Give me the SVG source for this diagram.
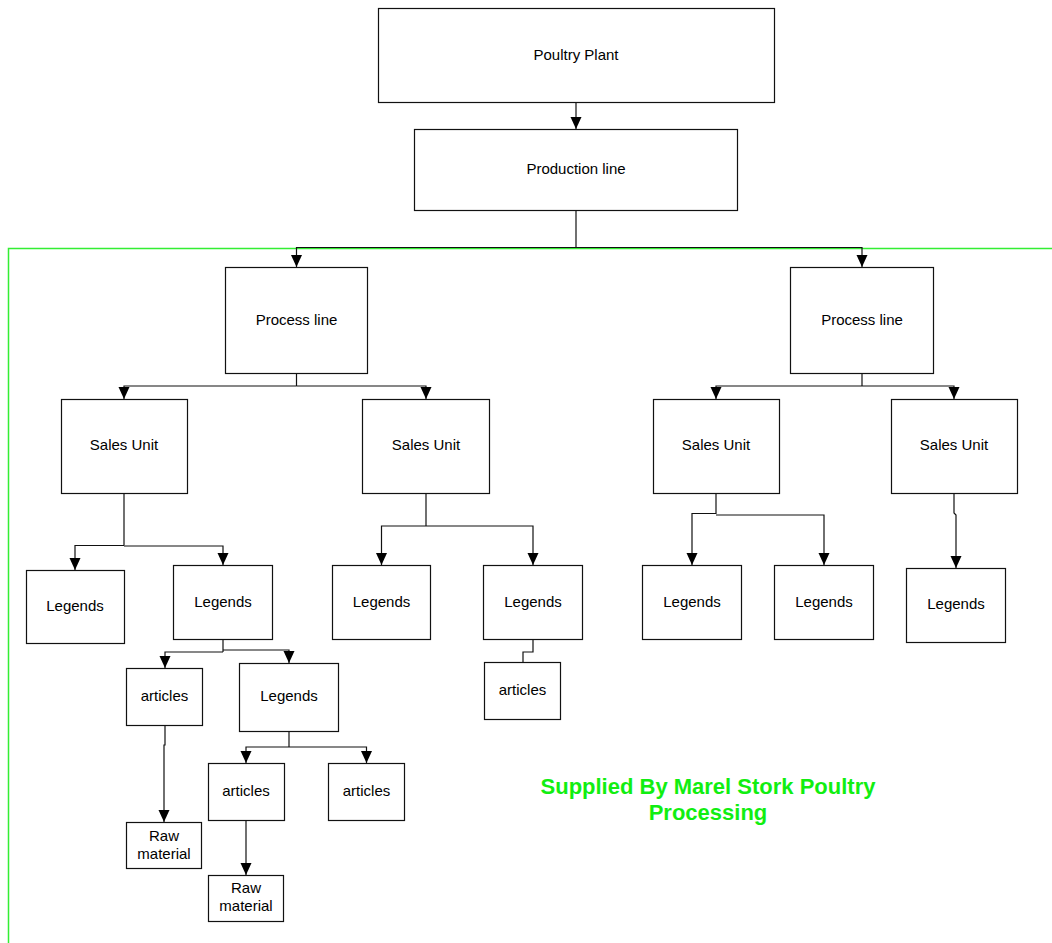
<svg xmlns="http://www.w3.org/2000/svg" width="1052" height="943" viewBox="0 0 1052 943">
<style>
.box{fill:#fff;stroke:#111;stroke-width:1.2}
.t{font-family:"Liberation Sans",Arial,sans-serif;font-size:15px;fill:#000;text-anchor:middle}
.c{fill:none;stroke:#111;stroke-width:1.2}
.a{marker-end:url(#arr)}
.g{fill:none;stroke:#33ee33;stroke-width:1.5}
.gt{font-family:"Liberation Sans",Arial,sans-serif;font-size:22px;font-weight:bold;fill:#11ee11;text-anchor:middle}
</style>
<defs>
<marker id="arr" markerUnits="userSpaceOnUse" markerWidth="12" markerHeight="12" viewBox="0 0 12 12" refX="12" refY="6" orient="auto">
<path d="M0,0.5 L12,6 L0,11.5 Z" fill="#000"/>
</marker>
</defs>
<rect width="1052" height="943" fill="#fff"/>
<g id="border"><path class="g" d="M1052,248.5 H8.5 V943"/></g>
<g id="connectors">
<path class="c a" d="M576,103 V129"/>
<path class="c" d="M576,210 V247.5"/>
<path class="c a" d="M576,247.5 H296.5 V267"/>
<path class="c a" d="M576,247.5 H862 V267"/>
<path class="c" d="M296.5,374 V386"/>
<path class="c a" d="M296.5,386 H124 V399"/>
<path class="c a" d="M296.5,386 H426 V399"/>
<path class="c" d="M862,374 V386"/>
<path class="c a" d="M862,386 H716 V399"/>
<path class="c a" d="M862,386 H954 V399"/>
<path class="c" d="M124,494 V545.5"/>
<path class="c a" d="M124,545.5 H75 V570"/>
<path class="c a" d="M124,546 H223 V565"/>
<path class="c" d="M223,640 V652"/>
<path class="c a" d="M223,652 H165 V668"/>
<path class="c a" d="M223,650 H289 V663"/>
<path class="c a" d="M165,725 V745 H164 V822"/>
<path class="c" d="M289,731 V747"/>
<path class="c a" d="M289,747 H246 V763"/>
<path class="c a" d="M289,747 H366.5 V763"/>
<path class="c a" d="M246,820 V875"/>
<path class="c" d="M426,494 V526"/>
<path class="c a" d="M426,526 H381.5 V565"/>
<path class="c a" d="M426,526 H533 V565"/>
<path class="c" d="M533,640 V652 H523 V662"/>
<path class="c" d="M716,494 V514"/>
<path class="c a" d="M716,513.5 H692 V565"/>
<path class="c a" d="M716,515 H824 V565"/>
<path class="c a" d="M954,494 V513 L956,515 V568"/>
</g>
<g id="n-poultry-plant"><rect class="box" x="378.5" y="8.5" width="396" height="94"/><text class="t" x="576" y="60" font-size="14">Poultry Plant</text></g>
<g id="n-production-line"><rect class="box" x="414.5" y="129.5" width="323" height="81"/><text class="t" x="576" y="174">Production line</text></g>
<g id="n-process-line-1"><rect class="box" x="225.5" y="267.5" width="142" height="106"/><text class="t" x="296.5" y="325">Process line</text></g>
<g id="n-process-line-2"><rect class="box" x="790.5" y="267.5" width="143" height="106"/><text class="t" x="862" y="325">Process line</text></g>
<g id="n-sales-unit-1"><rect class="box" x="61.5" y="399.5" width="126" height="94"/><text class="t" x="124" y="450">Sales Unit</text></g>
<g id="n-sales-unit-2"><rect class="box" x="362.5" y="399.5" width="127" height="94"/><text class="t" x="426" y="450">Sales Unit</text></g>
<g id="n-sales-unit-3"><rect class="box" x="653.5" y="399.5" width="126" height="94"/><text class="t" x="716" y="450">Sales Unit</text></g>
<g id="n-sales-unit-4"><rect class="box" x="891.5" y="399.5" width="126" height="94"/><text class="t" x="954" y="450">Sales Unit</text></g>
<g id="n-legends-a"><rect class="box" x="26.5" y="570.5" width="98" height="73"/><text class="t" x="75" y="611">Legends</text></g>
<g id="n-legends-b"><rect class="box" x="173.5" y="565.5" width="99" height="74"/><text class="t" x="223" y="607">Legends</text></g>
<g id="n-legends-c"><rect class="box" x="239.5" y="663.5" width="99" height="68"/><text class="t" x="289" y="701">Legends</text></g>
<g id="n-legends-d"><rect class="box" x="332.5" y="565.5" width="98" height="74"/><text class="t" x="381.5" y="607">Legends</text></g>
<g id="n-legends-e"><rect class="box" x="483.5" y="565.5" width="99" height="74"/><text class="t" x="533" y="607">Legends</text></g>
<g id="n-legends-f"><rect class="box" x="642.5" y="565.5" width="99" height="74"/><text class="t" x="692" y="607">Legends</text></g>
<g id="n-legends-g"><rect class="box" x="774.5" y="565.5" width="99" height="74"/><text class="t" x="824" y="607">Legends</text></g>
<g id="n-legends-h"><rect class="box" x="906.5" y="568.5" width="99" height="74"/><text class="t" x="956" y="609">Legends</text></g>
<g id="n-articles-a"><rect class="box" x="126.5" y="668.5" width="76" height="57"/><text class="t" x="164.5" y="701">articles</text></g>
<g id="n-articles-b"><rect class="box" x="208.5" y="763.5" width="76" height="57"/><text class="t" x="246" y="796">articles</text></g>
<g id="n-articles-c"><rect class="box" x="328.5" y="763.5" width="76" height="57"/><text class="t" x="366.5" y="796">articles</text></g>
<g id="n-articles-d"><rect class="box" x="484.5" y="662.5" width="76" height="57"/><text class="t" x="522.5" y="695">articles</text></g>
<g id="n-raw-a"><rect class="box" x="126.5" y="822.5" width="75" height="46"/><text class="t" x="164" y="841">Raw</text><text class="t" x="164" y="859">material</text></g>
<g id="n-raw-b"><rect class="box" x="208.5" y="875.5" width="75" height="46"/><text class="t" x="246" y="893">Raw</text><text class="t" x="246" y="911">material</text></g>
<g id="caption"><text class="gt" x="708" y="794">Supplied By Marel Stork Poultry</text><text class="gt" x="708" y="820">Processing</text></g>
</svg>
